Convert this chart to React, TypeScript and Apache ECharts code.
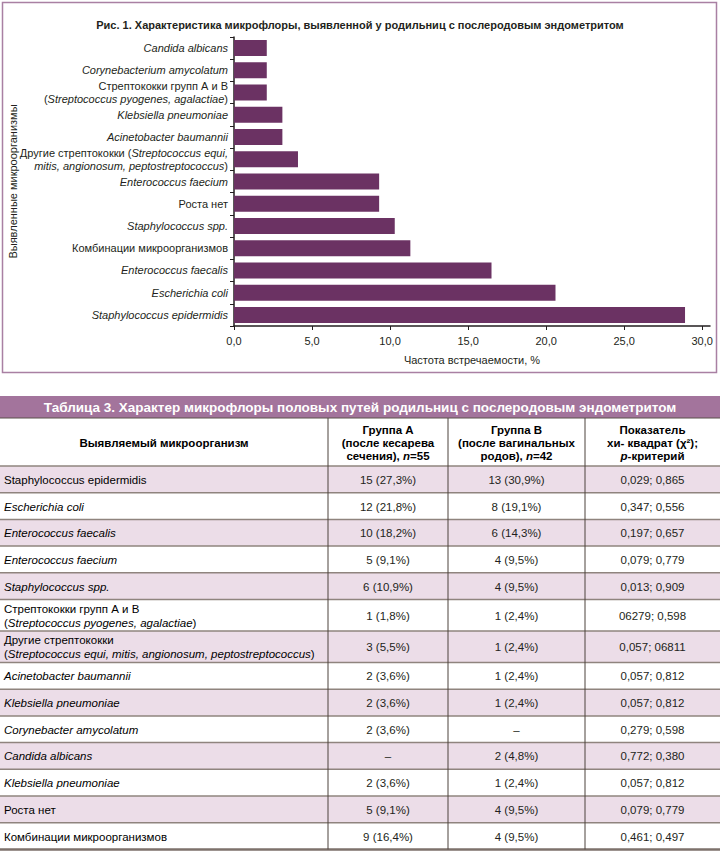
import React, { useEffect, useRef } from "react";
import * as echarts from "echarts";

const chartTitle =
  "Рис. 1. Характеристика микрофлоры, выявленной у родильниц с послеродовым эндометритом";
const categories = [
  "Candida albicans",
  "Corynebacterium amycolatum",
  "Стрептококки групп \u0410 и \u0412\n(Streptococcus pyogenes, agalactiae)",
  "Klebsiella pneumoniae",
  "Acinetobacter baumannii",
  "Другие стрептококки (Streptococcus equi,\nmitis, angionosum, peptostreptococcus)",
  "Enterococcus faecium",
  "Роста нет",
  "Staphylococcus spp.",
  "Комбинации микроорганизмов",
  "Enterococcus faecalis",
  "Escherichia coli",
  "Staphylococcus epidermidis",
];
const frequencies = [2.1, 2.1, 2.1, 3.1, 3.1, 4.1, 9.3, 9.3, 10.3, 11.3, 16.5, 20.6, 28.9];
const xTicks = [0, 5, 10, 15, 20, 25, 30];
const xAxisName = "Частота встречаемости, %";
const yAxisName = "Выявленные микроорганизмы";

const tableTitle =
  "Таблица 3. Характер микрофлоры половых путей родильниц с послеродовым эндометритом";
const tableHeaders = [
  "Выявляемый микроорганизм",
  "Группа \u0410\n(после кесарева\nсечения), n=55",
  "Группа \u0412\n(после вагинальных\nродов), n=42",
  "Показатель\nхи- квадрат (χ²);\np-критерий",
];
const tableNames = [
  "Staphylococcus epidermidis",
  "Escherichia coli",
  "Enterococcus faecalis",
  "Enterococcus faecium",
  "Staphylococcus spp.",
  "Стрептококки групп \u0410 и \u0412\n(Streptococcus pyogenes, agalactiae)",
  "Другие стрептококки\n(Streptococcus equi, mitis, angionosum, peptostreptococcus)",
  "Acinetobacter baumannii",
  "Klebsiella pneumoniae",
  "Corynebacter amycolatum",
  "Candida albicans",
  "Klebsiella pneumoniae",
  "Роста нет",
  "Комбинации микроорганизмов",
];
const groupA = [
  "15 (27,3%)", "12 (21,8%)", "10 (18,2%)", "5 (9,1%)", "6 (10,9%)", "1 (1,8%)", "3 (5,5%)",
  "2 (3,6%)", "2 (3,6%)", "2 (3,6%)", "–", "2 (3,6%)", "5 (9,1%)", "9 (16,4%)",
];
const groupB = [
  "13 (30,9%)", "8 (19,1%)", "6 (14,3%)", "4 (9,5%)", "4 (9,5%)", "1 (2,4%)", "1 (2,4%)",
  "1 (2,4%)", "1 (2,4%)", "–", "2 (4,8%)", "1 (2,4%)", "4 (9,5%)", "4 (9,5%)",
];
const chiSquareP = [
  "0,029; 0,865", "0,347; 0,556", "0,197; 0,657", "0,079; 0,779", "0,013; 0,909",
  "06279; 0,598", "0,057; 06811", "0,057; 0,812", "0,057; 0,812", "0,279; 0,598",
  "0,772; 0,380", "0,057; 0,812", "0,079; 0,779", "0,461; 0,497",
];

const FONT = '"Liberation Sans", Arial, sans-serif';
const INK = "#231f20";
const PURPLE_BAR = "#6b3263";
const FRAME = "#a980a3";
const BAND = "#a3749c";
const SHADE = "#ecdde8";

function richMarkup(s: string, latinItalic = true): string {
  return s
    .split("\n")
    .map((line) => {
      const parts = line.split(/([A-Za-z][A-Za-z.,\- ]*[A-Za-z.,]|[A-Za-z])/);
      return parts
        .map((p, k) => (p === "" ? "" : k % 2 === 1 && latinItalic ? `{i|${p}}` : `{n|${p}}`))
        .join("");
    })
    .join("\n");
}

export default function App() {
  const ref = useRef<HTMLDivElement>(null);
  useEffect(() => {
    document.body.style.margin = "0";
    if (!ref.current) return;
    const chart = echarts.init(ref.current, null, { renderer: "svg" });

    // table layout
    const colEdges = [0, 328, 448, 585, 720];
    const bandTop = 396;
    const bandBottom = 418;
    const headerBottom = 466;
    const rowH1 = 26.7;
    const rowH2 = 31.5;

    const rects: any[] = [];
    const lines: any[] = [];
    const texts: any[] = [];

    const bodyRich = {
      n: { fontSize: 11.5, fontFamily: FONT, color: INK, lineHeight: 14 },
      i: { fontSize: 11.5, fontFamily: FONT, color: INK, lineHeight: 14, fontStyle: "italic" },
    };
    const headRich = {
      n: { fontSize: 11.5, fontFamily: FONT, color: INK, lineHeight: 13, fontWeight: "bold" },
      i: {
        fontSize: 11.5, fontFamily: FONT, color: INK, lineHeight: 13, fontWeight: "bold",
        fontStyle: "italic",
      },
    };

    // chart frame
    rects.push({
      type: "rect",
      shape: { x: 2.5, y: 2.5, width: 714, height: 370 },
      style: { fill: "none", stroke: FRAME, lineWidth: 1.5 },
    });
    // title band
    rects.push({
      type: "rect",
      shape: { x: 0, y: bandTop, width: 720, height: bandBottom - bandTop },
      style: { fill: BAND },
    });
    texts.push({
      type: "text",
      x: 360,
      y: (bandTop + bandBottom) / 2 + 0.5,
      style: {
        text: tableTitle,
        fill: "#ffffff",
        fontSize: 13.5,
        fontWeight: "bold",
        fontFamily: FONT,
        align: "center",
        verticalAlign: "middle",
        textAlign: "center",
        textVerticalAlign: "middle",
      },
    });

    // header cells
    tableHeaders.forEach((h, c) => {
      const cx = (colEdges[c] + colEdges[c + 1]) / 2;
      texts.push({
        type: "text",
        x: cx,
        y: (bandBottom + headerBottom) / 2 + 0.5,
        style: {
          text: richMarkup(h),
          rich: headRich,
          align: "center",
          verticalAlign: "middle",
          textAlign: "center",
          textVerticalAlign: "middle",
        },
      });
    });

    lines.push({
      type: "line",
      shape: { x1: 0, y1: bandBottom, x2: 720, y2: bandBottom },
      style: { stroke: "#5a504b", lineWidth: 1 },
    });
    lines.push({
      type: "line",
      shape: { x1: 0, y1: headerBottom, x2: 720, y2: headerBottom },
      style: { stroke: "#8f847e", lineWidth: 1.5 },
    });

    let y = headerBottom;
    tableNames.forEach((name, r) => {
      const h = name.includes("\n") ? rowH2 : rowH1;
      if (r % 2 === 0) {
        rects.push({
          type: "rect",
          shape: { x: 0, y, width: 720, height: h },
          style: { fill: SHADE },
        });
      }
      const cy = y + h / 2 + 0.5;
      texts.push({
        type: "text",
        x: 4,
        y: cy,
        style: {
          text: richMarkup(name, r !== 0),
          rich: bodyRich,
          align: "left",
          verticalAlign: "middle",
          textAlign: "left",
          textVerticalAlign: "middle",
        },
      });
      [groupA[r], groupB[r], chiSquareP[r]].forEach((v, k) => {
        texts.push({
          type: "text",
          x: (colEdges[k + 1] + colEdges[k + 2]) / 2,
          y: cy,
          style: {
            text: v,
            fill: INK,
            fontSize: 11.5,
            fontFamily: FONT,
            align: "center",
            verticalAlign: "middle",
            textAlign: "center",
            textVerticalAlign: "middle",
          },
        });
      });
      y += h;
      const last = r === tableNames.length - 1;
      lines.push({
        type: "line",
        shape: { x1: 0, y1: y, x2: 720, y2: y },
        style: { stroke: last ? "#7d716b" : "#8f847e", lineWidth: last ? 2.5 : 1.5 },
      });
    });
    const tableBottom = y;
    for (let c = 1; c < colEdges.length - 1; c++) {
      lines.push({
        type: "line",
        shape: { x1: colEdges[c], y1: bandBottom, x2: colEdges[c], y2: tableBottom },
        style: { stroke: "#4d423d", lineWidth: 1 },
      });
    }

    const labelRich = {
      n: { fontSize: 11, fontFamily: FONT, color: INK, lineHeight: 12.5 },
      i: { fontSize: 11, fontFamily: FONT, color: INK, lineHeight: 12.5, fontStyle: "italic" },
    };

    const option: any = {
      animation: false,
      backgroundColor: "#ffffff",
      title: {
        text: chartTitle,
        left: "center",
        top: 14,
        textStyle: { fontSize: 11, fontWeight: "bold", color: INK, fontFamily: FONT },
      },
      grid: { left: 234, right: 10, top: 37, bottom: 529, containLabel: false, outerBoundsMode: "none" },
      xAxis: {
        type: "value",
        min: 0,
        max: 30.5,
        interval: 5,
        name: xAxisName,
        nameLocation: "middle",
        nameGap: 28,
        nameMoveOverlap: false,
        nameTextStyle: { fontSize: 11, color: INK, fontFamily: FONT },
        axisLine: { show: true, lineStyle: { color: INK, width: 1.5 } },
        axisTick: { show: true, length: 4, lineStyle: { color: INK }, customValues: xTicks },
        axisLabel: {
          customValues: xTicks,
          margin: 9,
          fontSize: 11,
          color: INK,
          fontFamily: FONT,
          formatter: (v: number) => v.toFixed(1).replace(".", ","),
        },
        splitLine: { show: false },
      },
      yAxis: {
        type: "category",
        inverse: true,
        data: categories,
        name: yAxisName,
        nameLocation: "middle",
        nameGap: 216,
        nameRotate: 90,
        nameMoveOverlap: false,
        nameTextStyle: { fontSize: 11, color: INK, fontFamily: FONT },
        axisLine: { show: true, lineStyle: { color: INK, width: 1.5 } },
        axisTick: { show: true, length: 4, lineStyle: { color: INK } },
        axisLabel: {
          margin: 6,
          formatter: (v: string) => richMarkup(v),
          rich: labelRich,
        },
      },
      series: [
        {
          type: "bar",
          data: frequencies,
          barWidth: 16,
          itemStyle: { color: PURPLE_BAR },
        },
      ],
      graphic: [...rects, ...lines, ...texts],
    };
    chart.setOption(option);
    return () => chart.dispose();
  }, []);
  return <div ref={ref} style={{ width: 720, height: 855 }} />;
}
